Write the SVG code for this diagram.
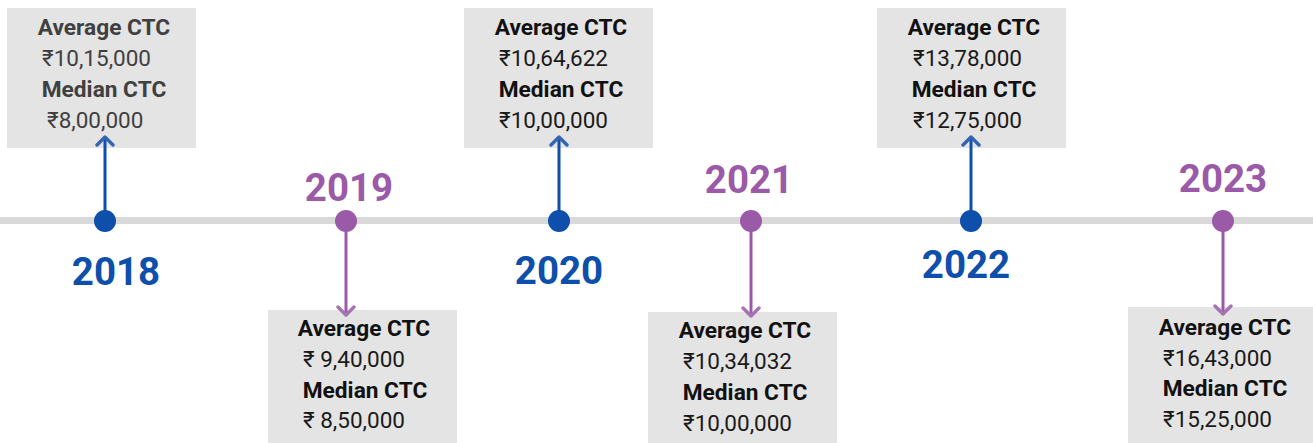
<svg xmlns="http://www.w3.org/2000/svg" width="1313" height="443" viewBox="0 0 1313 443">
<style>
.box{fill:#e4e4e4}
.h{font-family:Roboto,"Noto Sans",sans-serif;font-weight:bold;font-size:22.7px;fill:#111;text-anchor:middle}
.v{font-family:Roboto,"Noto Sans",sans-serif;font-size:22.5px;fill:#1a1a1a}
.g .h{fill:#404040}.g .v{fill:#404040}
.yb{font-family:Roboto,"Noto Sans",sans-serif;font-weight:bold;font-size:38.5px;fill:#0d4faa;text-anchor:middle}
.yp{font-family:Roboto,"Noto Sans",sans-serif;font-weight:bold;font-size:38.5px;fill:#9b5aa7;text-anchor:middle}
.lb{stroke:#0d4faa;stroke-width:3;fill:none}
.lp{stroke:#9b5aa7;stroke-width:3;fill:none}
.cb{fill:#0d4faa}.cp{fill:#9b5aa7}
</style>
<defs>
<marker id="ab" markerUnits="userSpaceOnUse" markerWidth="20" markerHeight="20" refX="10" refY="10" orient="auto" viewBox="0 0 20 20"><path d="M2,2 L10,10 L2,18" fill="none" stroke="#3565b0" stroke-width="3.4" stroke-linecap="round" stroke-linejoin="round"/></marker>
<marker id="ap" markerUnits="userSpaceOnUse" markerWidth="20" markerHeight="20" refX="10" refY="10" orient="auto" viewBox="0 0 20 20"><path d="M2,2 L10,10 L2,18" fill="none" stroke="#a473b1" stroke-width="3.4" stroke-linecap="round" stroke-linejoin="round"/></marker>
</defs>
<rect x="0" y="217" width="1313" height="7" fill="#d9d9d9"/>
<g id="n2018" class="g">
<rect class="box" x="7" y="8" width="189" height="140"/>
<text class="h" x="104" y="35">Average CTC</text>
<text class="v" x="42" y="66">₹10,15,000</text>
<text class="h" x="104" y="97">Median CTC</text>
<text class="v" x="47" y="128">₹8,00,000</text>
<circle class="cb" cx="105" cy="221" r="11"/>
<text class="yb" x="116" y="285">2018</text>
</g>
<g id="n2019">
<rect class="box" x="268" y="310" width="189" height="133"/>
<text class="h" x="364" y="336">Average CTC</text>
<text class="v" x="303" y="367">₹ 9,40,000</text>
<text class="h" x="365" y="398">Median CTC</text>
<text class="v" x="303" y="428">₹ 8,50,000</text>
<circle class="cp" cx="346" cy="221" r="11"/>
<text class="yp" x="349" y="201">2019</text>
</g>
<g id="n2020">
<rect class="box" x="464" y="8" width="189" height="140"/>
<text class="h" x="561" y="35">Average CTC</text>
<text class="v" x="499" y="66">₹10,64,622</text>
<text class="h" x="561" y="97">Median CTC</text>
<text class="v" x="499" y="128">₹10,00,000</text>
<circle class="cb" cx="559" cy="221" r="11"/>
<text class="yb" x="559" y="284">2020</text>
</g>
<g id="n2021">
<rect class="box" x="648" y="312" width="189" height="131"/>
<text class="h" x="745" y="338">Average CTC</text>
<text class="v" x="683" y="369">₹10,34,032</text>
<text class="h" x="745" y="400">Median CTC</text>
<text class="v" x="683" y="431">₹10,00,000</text>
<circle class="cp" cx="751" cy="221" r="11"/>
<text class="yp" x="749" y="193">2021</text>
</g>
<g id="n2022">
<rect class="box" x="877" y="8" width="189" height="140"/>
<text class="h" x="974" y="35">Average CTC</text>
<text class="v" x="913" y="66">₹13,78,000</text>
<text class="h" x="974" y="97">Median CTC</text>
<text class="v" x="913" y="128">₹12,75,000</text>
<circle class="cb" cx="971" cy="221" r="11"/>
<text class="yb" x="966" y="278">2022</text>
</g>
<g id="n2023">
<rect class="box" x="1128" y="307" width="185" height="136"/>
<text class="h" x="1225" y="335">Average CTC</text>
<text class="v" x="1163" y="366">₹16,43,000</text>
<text class="h" x="1225" y="396">Median CTC</text>
<text class="v" x="1163" y="427">₹15,25,000</text>
<circle class="cp" cx="1223" cy="221" r="11"/>
<text class="yp" x="1223" y="192">2023</text>
</g>
<g id="connectors">
<line class="lb" x1="105" y1="212" x2="105" y2="137" marker-end="url(#ab)"/>
<line class="lp" x1="346" y1="230" x2="346" y2="315" marker-end="url(#ap)"/>
<line class="lb" x1="559" y1="212" x2="559" y2="137" marker-end="url(#ab)"/>
<line class="lp" x1="751" y1="230" x2="751" y2="316" marker-end="url(#ap)"/>
<line class="lb" x1="971" y1="212" x2="971" y2="137" marker-end="url(#ab)"/>
<line class="lp" x1="1223" y1="230" x2="1223" y2="314" marker-end="url(#ap)"/>
</g>
</svg>
